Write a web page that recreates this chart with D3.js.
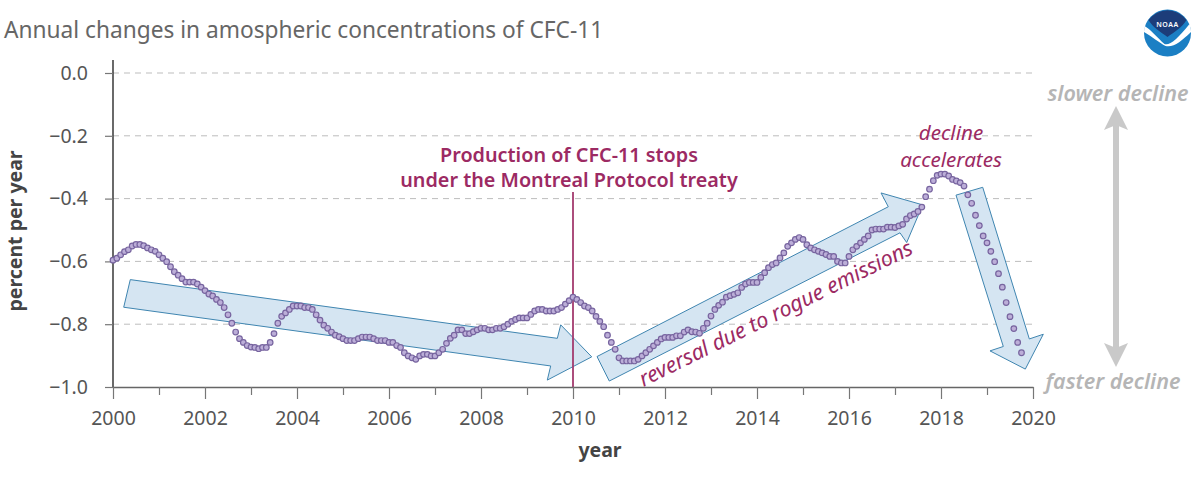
<!DOCTYPE html>
<html lang="en">
<head>
  <meta charset="UTF-8">
  <title>Annual changes in amospheric concentrations of CFC-11</title>
  <script src="https://cdnjs.cloudflare.com/ajax/libs/d3/7.8.5/d3.min.js"></script>
  <style>
    html, body { margin: 0; padding: 0; background: #fff; }
    svg { display: block; }
    text { font-family: "Noto Sans", sans-serif; }
    .grid { stroke: #bdbdbd; stroke-width: 1; stroke-dasharray: 6 5; }
    .tick-label { fill: #555; font-size: 19.5px; }
    .note { fill: #9c2a63; font-size: 21.6px; }
    .note-top { fill: #9c2a63; font-size: 20.6px; }
    .note-bold { fill: #9c2a63; font-size: 19.8px; font-weight: 600; }
    .side { fill: #b5b5b5; font-size: 21.5px; font-style: italic; font-weight: 600; }
    .axis-title { fill: #444; font-size: 19.5px; font-weight: 700; }
  </style>
</head>
<body>
  <svg width="1200" height="480"></svg>
  <script>
    // monthly values, one row per year, starting January 2000
    var monthlyChange = [
      -.596, -.590, -.579, -.569, -.563, -.551, -.546, -.546, -.550, -.557, -.563, -.568,
      -.579, -.590, -.601, -.617, -.633, -.644, -.655, -.666, -.666, -.666, -.672, -.682,
      -.693, -.704, -.710, -.721, -.731, -.747, -.770, -.797, -.825, -.846, -.858, -.868,
      -.873, -.874, -.878, -.874, -.874, -.858, -.830, -.797, -.775, -.764, -.753, -.742,
      -.742, -.742, -.747, -.747, -.753, -.770, -.787, -.803, -.813, -.825, -.835, -.840,
      -.846, -.852, -.852, -.852, -.846, -.841, -.841, -.841, -.846, -.852, -.852, -.852,
      -.858, -.858, -.868, -.874, -.891, -.901, -.907, -.912, -.901, -.896, -.896, -.901,
      -.901, -.891, -.880, -.861, -.845, -.835, -.818, -.818, -.830, -.830, -.824, -.818,
      -.813, -.813, -.818, -.818, -.813, -.813, -.808, -.800, -.791, -.785, -.780, -.780,
      -.780, -.769, -.758, -.753, -.753, -.758, -.758, -.758, -.753, -.747, -.736, -.725,
      -.714, -.721, -.731, -.742, -.747, -.758, -.775, -.791, -.808, -.835, -.858, -.880,
      -.907, -.917, -.917, -.917, -.917, -.912, -.901, -.891, -.880, -.869, -.858, -.847,
      -.842, -.842, -.842, -.837, -.837, -.825, -.818, -.824, -.825, -.829, -.813, -.797,
      -.774, -.753, -.740, -.730, -.714, -.709, -.705, -.700, -.683, -.672, -.667, -.667,
      -.667, -.651, -.636, -.620, -.610, -.605, -.589, -.573, -.552, -.541, -.530, -.524,
      -.530, -.547, -.557, -.563, -.568, -.573, -.578, -.584, -.584, -.600, -.605, -.605,
      -.584, -.563, -.552, -.541, -.530, -.519, -.500, -.497, -.497, -.497, -.491, -.491,
      -.492, -.487, -.482, -.465, -.454, -.449, -.441, -.427, -.394, -.370, -.343, -.326,
      -.322, -.322, -.328, -.339, -.344, -.349, -.360, -.388, -.415, -.453, -.486, -.519,
      -.541, -.568, -.601, -.639, -.682, -.731, -.776, -.814, -.858, -.891
    ]
    var yearTicks = d3.range(2000, 2021)
    var yearLabels = d3.range(2000, 2021, 2)
    var valueTicks = [0, -0.2, -0.4, -0.6, -0.8, -1]

    // trend arrows, outlines as [year, value]
    var arrowFlat = [[2000.376, -.658], [2009.659, -.845], [2009.733, -.802], [2010.407, -.904], [2009.441, -.978], [2009.515, -.933], [2000.233, -.746]]
    var arrowRise = [[2010.522, -.903], [2016.854, -.426], [2016.696, -.382], [2017.602, -.420], [2017.254, -.540], [2017.109, -.509], [2010.789, -.981]]
    var arrowDrop = [[2018.326, -.389], [2018.907, -.364], [2019.920, -.847], [2020.224, -.832], [2019.833, -.943], [2019.065, -.885], [2019.354, -.871]]

    var x = d3.scaleLinear().domain([2000, 2020]).range([113, 1033])
    var y = d3.scaleLinear().domain([0, -1]).range([73, 387])
    var svg = d3.select("svg")

    // gridlines
    svg.selectAll(".grid")
       .data(valueTicks.slice(0, 5))
       .join("line")
       .attr("class", "grid")
       .attr("x1", x(2000)).attr("x2", x(2020))
       .attr("y1", d => y(d)).attr("y2", d => y(d))

    // arrows sit under the dots
    svg.selectAll(".arrow")
       .data([arrowFlat, arrowRise, arrowDrop])
       .join("polygon")
       .attr("class", "arrow")
       .attr("points", d => d.map(p => x(p[0]) + "," + y(p[1])).join(" "))
       .attr("fill", "#d5e5f2")
       .attr("stroke", "#3f85b0")
       .attr("stroke-width", 1)

    // treaty line
    svg.append("line")
       .attr("x1", x(2010)).attr("x2", x(2010))
       .attr("y1", y(-0.379)).attr("y2", y(-1))
       .attr("stroke", "#a33a6e").attr("stroke-width", 1.8)

    // axes
    var xAxis = svg.append("g").attr("transform", "translate(0," + y(-1) + ")")
      .call(d3.axisBottom(x).tickValues(yearTicks).tickFormat(d => yearLabels.includes(d) ? d : "").tickSize(0).tickPadding(24))
    xAxis.select(".domain").attr("stroke", "#666").attr("stroke-width", 1.6)
    xAxis.selectAll("text").attr("class", "tick-label").attr("font-size", null).attr("font-family", null)
    xAxis.selectAll(".tick line")
       .attr("y2", d => yearLabels.includes(d) ? 12 : 8)
       .attr("stroke", "#777").attr("stroke-width", 1.2)

    var yAxis = svg.append("g").attr("transform", "translate(" + x(2000) + ",0)")
      .call(d3.axisLeft(y).tickValues(valueTicks).tickFormat(d3.format(".1f")).tickSize(8).tickPadding(17))
    yAxis.select(".domain").attr("d", "M0," + 60 + "V" + y(-1)).attr("stroke", "#444").attr("stroke-width", 1.6)
    yAxis.selectAll("text").attr("class", "tick-label").attr("font-size", null).attr("font-family", null)
    yAxis.selectAll(".tick line").attr("stroke", "#777").attr("stroke-width", 1.2)

    // dots
    svg.selectAll(".dot")
       .data(monthlyChange)
       .join("circle")
       .attr("class", "dot")
       .attr("cx", (d, i) => x(2000 + i / 12))
       .attr("cy", d => y(d))
       .attr("r", 2.8)
       .attr("fill", "#bcaed8")
       .attr("stroke", "#77649f")
       .attr("stroke-width", 1.2)

    // text
    svg.append("text").attr("x", 4).attr("y", 38).attr("fill", "#666").attr("font-size", 22.7).text("Annual changes in amospheric concentrations of CFC-11")
    svg.append("text").attr("class", "axis-title").attr("text-anchor", "middle").attr("x", 600).attr("y", 457).text("year")
    svg.append("text").attr("class", "axis-title").attr("text-anchor", "middle")
       .attr("transform", "translate(22,231) rotate(-90)").text("percent per year")

    svg.append("text").attr("class", "note-bold").attr("text-anchor", "middle").attr("x", 569).attr("y", 162).text("Production of CFC-11 stops")
    svg.append("text").attr("class", "note-bold").attr("text-anchor", "middle").attr("x", 569).attr("y", 187).text("under the Montreal Protocol treaty")
    svg.append("text").attr("class", "note-top").attr("font-style", "italic").attr("text-anchor", "middle").attr("x", 951).attr("y", 140).text("decline")
    svg.append("text").attr("class", "note-top").attr("font-style", "italic").attr("text-anchor", "middle").attr("x", 951).attr("y", 167).text("accelerates")
    svg.append("text").attr("class", "note").attr("font-style", "italic").attr("text-anchor", "middle")
       .attr("transform", "translate(779,320) rotate(-26.3)").text("reversal due to rogue emissions")

    svg.append("text").attr("class", "side").attr("text-anchor", "middle").attr("x", 1118).attr("y", 101).text("slower decline")
    svg.append("text").attr("class", "side").attr("text-anchor", "middle").attr("x", 1113).attr("y", 389).text("faster decline")

    // grey double arrow
    var sideArrow = svg.append("g").attr("fill", "#c9c9c9")
    sideArrow.append("rect").attr("x", 1113).attr("y", 120).attr("width", 6).attr("height", 234)
    sideArrow.append("path").attr("d", "M1116,106L1128,130L1116,125L1104,130Z")
    sideArrow.append("path").attr("d", "M1116,367L1128,343L1116,348L1104,343Z")

    // NOAA logo
    var logo = svg.append("g").attr("transform", "translate(1167.5,33)")
    logo.append("circle").attr("r", 23.5).attr("fill", "#1b7fc4")
    logo.append("path").attr("d", "M-19,-13A23.5,23.5 0 0 1 19,-13C15,-6 7,-1 0,4C-7,-1 -15,-6 -19,-13Z").attr("fill", "#1c3d7a")
    logo.append("path").attr("d", "M-23,-7C-17,-4 -10,5 -3,11C2,13 10,6 22,-9C23,-6 23.5,-3 23.5,-1C14,8 6,15 -2,13C-8,10 -16,3 -23.5,-1Z").attr("fill", "#fff")
    logo.append("text").attr("text-anchor", "middle").attr("y", -6).attr("fill", "#fff").attr("font-size", 7).attr("font-weight", 600).attr("letter-spacing", 0.6).text("NOAA")
  </script>
</body>
</html>
